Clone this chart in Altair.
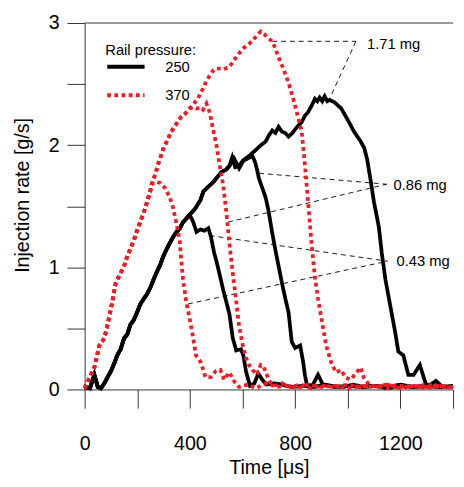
import altair as alt
import pandas as pd

# ---------------- data ----------------
# shared rising part of the 250 bar curves
b_rise_t = [0, 20, 37, 50, 62, 75, 87, 100, 112, 124, 137, 150, 162, 174, 187, 199, 212, 224, 237, 249, 262, 274, 287, 299, 312, 324, 337, 349, 362, 374, 387, 399]
b_rise_v = [0.02, 0.01, 0.12, 0.02, 0.01, 0.05, 0.10, 0.15, 0.21, 0.28, 0.33, 0.42, 0.45, 0.53, 0.57, 0.63, 0.70, 0.74, 0.78, 0.83, 0.90, 0.96, 1.02, 1.09, 1.15, 1.20, 1.25, 1.29, 1.32, 1.37, 1.40, 1.43]

b043_t = [411, 425, 440, 455, 470, 480, 492, 501, 512, 526, 538, 550, 563, 576, 594, 603, 613, 628, 645, 660, 675, 690, 720, 750, 790, 830, 870, 910, 950, 1000, 1050, 1100, 1150, 1200, 1250, 1300, 1350, 1400]
b043_v = [1.38, 1.29, 1.31, 1.30, 1.32, 1.25, 1.12, 1.05, 0.95, 0.82, 0.72, 0.62, 0.42, 0.32, 0.33, 0.28, 0.15, 0.03, 0.05, 0.13, 0.08, 0.04, 0.05, 0.04, 0.02, 0.03, 0.02, 0.04, 0.02, 0.03, 0.02, 0.03, 0.01, 0.03, 0.02, 0.03, 0.02, 0.02]

b_mid_t = [420, 440, 451, 470, 490, 501, 520, 538, 550]
b_mid_v = [1.48, 1.55, 1.62, 1.66, 1.70, 1.73, 1.78, 1.80, 1.83]

b086_t = [561, 572, 587, 600, 619, 638, 648, 655, 662, 675, 688, 699, 713, 725, 737, 750, 763, 775, 787, 800, 819, 830, 837, 844, 865, 887, 905, 940, 980, 1020, 1060, 1100, 1150, 1200, 1250, 1300, 1350, 1400]
b086_v = [1.90, 1.82, 1.83, 1.87, 1.89, 1.91, 1.86, 1.80, 1.73, 1.65, 1.57, 1.46, 1.28, 1.14, 1.01, 0.87, 0.74, 0.63, 0.39, 0.34, 0.36, 0.23, 0.12, 0.04, 0.03, 0.12, 0.04, 0.03, 0.02, 0.04, 0.02, 0.03, 0.02, 0.04, 0.02, 0.03, 0.02, 0.03]

b171_t = [568, 587, 605, 624, 650, 670, 688, 700, 713, 725, 737, 750, 762, 775, 790, 800, 812, 825, 837, 849, 862, 875, 884, 893, 903, 912, 922, 931, 950, 975, 999, 1024, 1049, 1062, 1073, 1087, 1099, 1118, 1129, 1143, 1161, 1180, 1192, 1211, 1230, 1250, 1274, 1297, 1315, 1335, 1355, 1372, 1400]
b171_v = [1.89, 1.81, 1.88, 1.91, 1.96, 2.00, 2.03, 2.08, 2.12, 2.10, 2.15, 2.11, 2.10, 2.07, 2.10, 2.13, 2.16, 2.19, 2.24, 2.27, 2.32, 2.38, 2.36, 2.39, 2.36, 2.40, 2.36, 2.37, 2.35, 2.30, 2.21, 2.11, 2.03, 1.98, 1.89, 1.71, 1.54, 1.33, 1.12, 0.90, 0.69, 0.47, 0.31, 0.28, 0.12, 0.12, 0.20, 0.04, 0.04, 0.07, 0.03, 0.02, 0.02]

# shared rising part of the 370 bar curves
r_rise_t = [0, 15, 37, 56, 75, 87, 100, 112, 118, 131, 150, 162, 187, 199, 218, 231, 249, 255]
r_rise_v = [0.01, 0.08, 0.18, 0.36, 0.42, 0.53, 0.66, 0.80, 0.87, 0.93, 1.01, 1.09, 1.22, 1.30, 1.41, 1.49, 1.62, 1.68]

r043_t = [270, 287, 305, 324, 336, 349, 361, 367, 374, 386, 399, 411, 423, 442, 459, 479, 498, 516, 530, 550, 570, 587, 620, 650, 690, 730, 770, 810, 850, 900, 950, 1000, 1050, 1100, 1150, 1200, 1250, 1300, 1350, 1400]
r043_v = [1.70, 1.69, 1.65, 1.57, 1.49, 1.36, 1.22, 1.06, 0.90, 0.72, 0.58, 0.44, 0.28, 0.22, 0.10, 0.10, 0.15, 0.16, 0.08, 0.14, 0.06, 0.02, 0.04, 0.01, 0.05, 0.02, 0.03, 0.01, 0.04, 0.02, 0.03, 0.01, 0.03, 0.02, 0.04, 0.01, 0.03, 0.02, 0.03, 0.01]

r_mid_t = [268, 283, 299, 314, 329, 347, 366, 383, 399]
r_mid_v = [1.76, 1.87, 1.97, 2.04, 2.11, 2.17, 2.23, 2.26, 2.30]

r086_t = [412, 426, 440, 450, 463, 475, 488, 501, 512, 526, 538, 550, 563, 576, 587, 601, 613, 625, 638, 655, 669, 680, 690, 705, 720, 750, 780, 820, 860, 900, 950, 1000, 1050, 1100, 1150, 1200, 1250, 1300, 1350, 1400]
r086_v = [2.31, 2.30, 2.31, 2.29, 2.34, 2.27, 2.13, 2.00, 1.85, 1.68, 1.46, 1.20, 0.95, 0.72, 0.52, 0.36, 0.26, 0.20, 0.16, 0.12, 0.20, 0.19, 0.13, 0.06, 0.03, 0.05, 0.02, 0.04, 0.01, 0.03, 0.02, 0.04, 0.02, 0.03, 0.01, 0.03, 0.02, 0.04, 0.02, 0.02]

r171_t = [415, 430, 449, 462, 475, 488, 501, 525, 550, 563, 576, 590, 601, 625, 640, 655, 669, 682, 695, 713, 725, 737, 756, 775, 790, 800, 812, 825, 837, 850, 862, 875, 887, 900, 918, 937, 955, 975, 990, 1010, 1030, 1049, 1060, 1080, 1110, 1150, 1200, 1250, 1300, 1350, 1400]
r171_v = [2.34, 2.38, 2.46, 2.52, 2.57, 2.61, 2.63, 2.62, 2.64, 2.68, 2.72, 2.76, 2.79, 2.83, 2.86, 2.90, 2.93, 2.91, 2.88, 2.85, 2.79, 2.72, 2.62, 2.51, 2.40, 2.32, 2.22, 2.11, 1.84, 1.51, 1.20, 0.92, 0.74, 0.58, 0.36, 0.22, 0.14, 0.16, 0.10, 0.08, 0.13, 0.18, 0.10, 0.04, 0.02, 0.04, 0.02, 0.03, 0.01, 0.03, 0.02]

# dashed annotation segments (data units) and their labels
ann_x = [713, 1031, 663, 545, 475, 393]
ann_y = [2.85, 2.85, 1.77, 1.37, 1.26, 0.70]
ann_x2 = [1031, 931, 1148, 1148, 1151, 1151]
ann_y2 = [2.85, 2.38, 1.68, 1.68, 1.05, 1.05]
mass_labels = ["1.71 mg", "0.86 mg", "0.43 mg"]
mass_label_t = [1073, 1174, 1185]
mass_label_v = [2.83, 1.67, 1.05]

pressures = ["250", "370"]
x_ticks = [0, 200, 400, 600, 800, 1000, 1200, 1400]
y_ticks = [0, 0.5, 1, 1.5, 2, 2.5, 3]

# ---------------- assemble ----------------
curves = [
    ("250 / 0.43", "250", b_rise_t + b043_t, b_rise_v + b043_v),
    ("250 / 0.86", "250", b_rise_t + b_mid_t + b086_t, b_rise_v + b_mid_v + b086_v),
    ("250 / 1.71", "250", b_rise_t + b_mid_t + b171_t, b_rise_v + b_mid_v + b171_v),
    ("370 / 0.43", "370", r_rise_t + r043_t, r_rise_v + r043_v),
    ("370 / 0.86", "370", r_rise_t + r_mid_t + r086_t, r_rise_v + r_mid_v + r086_v),
    ("370 / 1.71", "370", r_rise_t + r_mid_t + r171_t, r_rise_v + r_mid_v + r171_v),
]
rows = []
for name, p, ts, vs in curves:
    for i, (t, v) in enumerate(zip(ts, vs)):
        rows.append({"curve": name, "pressure": p, "time": t, "rate": v, "i": i})
df = pd.DataFrame(rows)

ann_df = pd.DataFrame({"x": ann_x, "y": ann_y, "x2": ann_x2, "y2": ann_y2})
lab_df = pd.DataFrame({"t": mass_label_t, "v": mass_label_v, "label": mass_labels})
top_df = pd.DataFrame({"y": [3]})

FONT = "Liberation Sans"
X_TITLE = "Time [μs]"
Y_TITLE = "Injection rate [g/s]"
x_scale = alt.Scale(domain=[0, 1400], nice=False, zero=False)
y_scale = alt.Scale(domain=[0, 3], nice=False)

x_axis = alt.Axis(values=x_ticks, format="d",
                  labelExpr="datum.value % 400 == 0 ? datum.label : ''",
                  tickSize=19, labelPadding=26, titlePadding=5,
                  labelFlush=False, labelOverlap=False, grid=False)
y_axis = alt.Axis(values=y_ticks,
                  labelExpr="datum.value % 1 == 0 ? format(datum.value, 'd') : ''",
                  tickSize=18, labelPadding=8, grid=False,
                  labelFlush=False, labelOverlap=False,
                  titleX=-63, titleY=175, titleBaseline="middle", titleAlign="center")

legend = alt.Legend(
    title="Rail pressure:", orient="none", legendX=21, legendY=21,
    titleFontSize=15, titleFontWeight="normal", titleFont=FONT, titleColor="black",
    labelFontSize=15, labelFont=FONT, labelColor="black",
    symbolType="stroke", symbolSize=1444, symbolStrokeWidth=4,
    labelOffset=19, rowPadding=-2, titlePadding=-12.5, padding=0,
)

lines = alt.Chart(df).mark_line(strokeWidth=3.8, strokeCap="butt", strokeJoin="miter").encode(
    x=alt.X("time:Q", scale=x_scale, title=X_TITLE, axis=x_axis),
    y=alt.Y("rate:Q", scale=y_scale, title=Y_TITLE, axis=y_axis),
    color=alt.Color("pressure:N", scale=alt.Scale(domain=pressures, range=["#000000", "#ee1c25"]), legend=legend),
    strokeDash=alt.StrokeDash("pressure:N", scale=alt.Scale(domain=pressures, range=[[1, 0], [3.8, 3.5]]), legend=legend),
    detail="curve:N",
    order="i:Q",
)

ann = alt.Chart(ann_df).mark_rule(color="black", strokeWidth=0.9, strokeDash=[5, 4]).encode(
    x=alt.X("x:Q", scale=x_scale, title=X_TITLE, axis=x_axis),
    y=alt.Y("y:Q", scale=y_scale, title=Y_TITLE, axis=y_axis),
    x2="x2:Q", y2="y2:Q",
)

labels = alt.Chart(lab_df).mark_text(align="left", baseline="middle", font=FONT, fontSize=15, color="black").encode(
    x=alt.X("t:Q", scale=x_scale, title=X_TITLE, axis=x_axis),
    y=alt.Y("v:Q", scale=y_scale, title=Y_TITLE, axis=y_axis),
    text="label:N",
)

top = alt.Chart(top_df).mark_rule(color="#333333", strokeWidth=1).encode(
    y=alt.Y("y:Q", scale=y_scale, title=Y_TITLE, axis=y_axis),
)

chart = alt.layer(ann, lines, labels, top).properties(
    width=375, height=373,
    autosize=alt.AutoSizeParams(type="none"),
    padding={"left": 78, "top": 11, "right": 3, "bottom": 94},
).configure_view(stroke=None).configure_axis(
    labelFont=FONT, titleFont=FONT, labelFontSize=20, titleFontSize=20,
    titleFontWeight="normal", labelColor="black", titleColor="black",
    domainColor="#333333", tickColor="#333333", domainWidth=1, tickWidth=1,
)

chart.save("out.html", embed_options={"renderer": "svg", "actions": False})
